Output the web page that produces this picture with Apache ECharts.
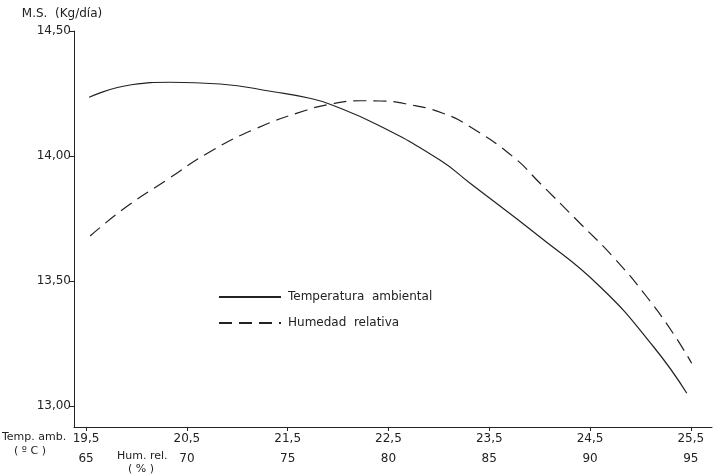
<!DOCTYPE html>
<html>
<head>
<meta charset="utf-8">
<script src="https://cdn.jsdelivr.net/npm/echarts@6/dist/echarts.min.js"></script>
<style>
  html, body { margin: 0; padding: 0; background: #fff; }
  #chart { width: 725px; height: 476px; }
</style>
</head>
<body>
<div id="chart"></div>
<script>
// M.S. (Kg/día) segun temperatura ambiental (ºC)
const tempX = [19.53, 19.95, 20.33, 20.83, 21.36, 21.72, 21.92, 22.39, 23.01, 23.31, 24.0, 24.6, 25.13, 25.46]
const tempY = [14.235, 14.285, 14.295, 14.288, 14.257, 14.231, 14.207, 14.125, 13.984, 13.891, 13.677, 13.477, 13.237, 13.051]
// M.S. (Kg/día) segun humedad relativa (%)
const humX = [65.2, 67.0, 69.0, 71.15, 73.47, 75.95, 77.1, 78.59, 79.58, 80.9, 82.7, 84.05, 86.18, 87.52, 89.5, 91.14, 92.81, 94.12, 95.04]
const humY = [13.68, 13.797, 13.904, 14.017, 14.111, 14.184, 14.207, 14.221, 14.22, 14.208, 14.171, 14.117, 13.997, 13.891, 13.731, 13.597, 13.437, 13.291, 13.171]

const tempTicks = [19.5, 20.5, 21.5, 22.5, 23.5, 24.5, 25.5]
const humTicks = [65, 70, 75, 80, 85, 90, 95]
const yTicks = [13, 13.5, 14, 14.5]

const fmt = (v, d) => v.toFixed(d).replace('.', ',')
const font = 'DejaVu Sans'
const ink = '#222'

const chart = echarts.init(document.getElementById('chart'))
const option = {
    animation: false,
    textStyle: { fontFamily: font, color: ink },
    grid: { left: 74, right: 13, top: 31, bottom: 49 },
    legend: {
        orient: 'vertical',
        left: 213,
        top: 286,
        itemWidth: 62,
        itemHeight: 10,
        itemGap: 14,
        itemStyle: { opacity: 0 },
        textStyle: { fontFamily: font, fontSize: 12, color: ink, padding: [0, 0, 0, 2] },
        data: ['Temperatura  ambiental', 'Humedad  relativa']
    },
    xAxis: [
        {
            type: 'value',
            min: 19.38,
            max: 25.71,
            splitLine: { show: false },
            axisLine: { lineStyle: { color: ink, width: 1 } },
            axisTick: { customValues: tempTicks, length: 4, lineStyle: { color: ink } },
            axisLabel: {
                customValues: tempTicks,
                formatter: (v) => fmt(v, 1),
                color: ink, fontSize: 12, margin: 6
            }
        },
        {
            type: 'value',
            position: 'bottom',
            offset: 20,
            min: 64.4,
            max: 96.05,
            splitLine: { show: false },
            axisLine: { show: false },
            axisTick: { show: false },
            axisLabel: {
                customValues: humTicks,
                color: ink, fontSize: 12, margin: 6
            }
        }
    ],
    yAxis: {
        type: 'value',
        min: 12.916,
        max: 14.5,
        name: 'M.S.  (Kg/día)',
        nameLocation: 'end',
        nameGap: 11,
        nameTextStyle: { fontFamily: font, fontSize: 12, color: ink, align: 'center', padding: [0, 24, 0, 0] },
        splitLine: { show: false },
        axisLine: { show: true, lineStyle: { color: ink, width: 1 } },
        axisTick: { show: true, customValues: yTicks, length: 5, lineStyle: { color: ink } },
        axisLabel: {
            customValues: yTicks,
            formatter: (v) => fmt(v, 2),
            color: ink, fontSize: 12, margin: 3
        }
    },
    graphic: [
        { type: 'text', left: 2, top: 432, style: { text: 'Temp. amb.', font: '11px ' + font, fill: ink } },
        { type: 'text', left: 14, top: 446, style: { text: '( º C )', font: '11px ' + font, fill: ink } },
        { type: 'text', left: 117, top: 451, style: { text: 'Hum. rel.', font: '11px ' + font, fill: ink } },
        { type: 'text', left: 128, top: 464, style: { text: '( % )', font: '11px ' + font, fill: ink } }
    ],
    series: [
        {
            name: 'Temperatura  ambiental',
            type: 'line',
            xAxisIndex: 0,
            smooth: 0.5,
            symbol: 'none',
            lineStyle: { color: ink, width: 1.2 },
            itemStyle: { color: ink },
            data: tempX.map((x, i) => [x, tempY[i]])
        },
        {
            name: 'Humedad  relativa',
            type: 'line',
            xAxisIndex: 1,
            smooth: 0.5,
            symbol: 'none',
            lineStyle: { color: ink, width: 1.2, type: [13, 7] },
            itemStyle: { color: ink },
            data: humX.map((x, i) => [x, humY[i]])
        }
    ]
}
chart.setOption(option)
</script>
</body>
</html>
